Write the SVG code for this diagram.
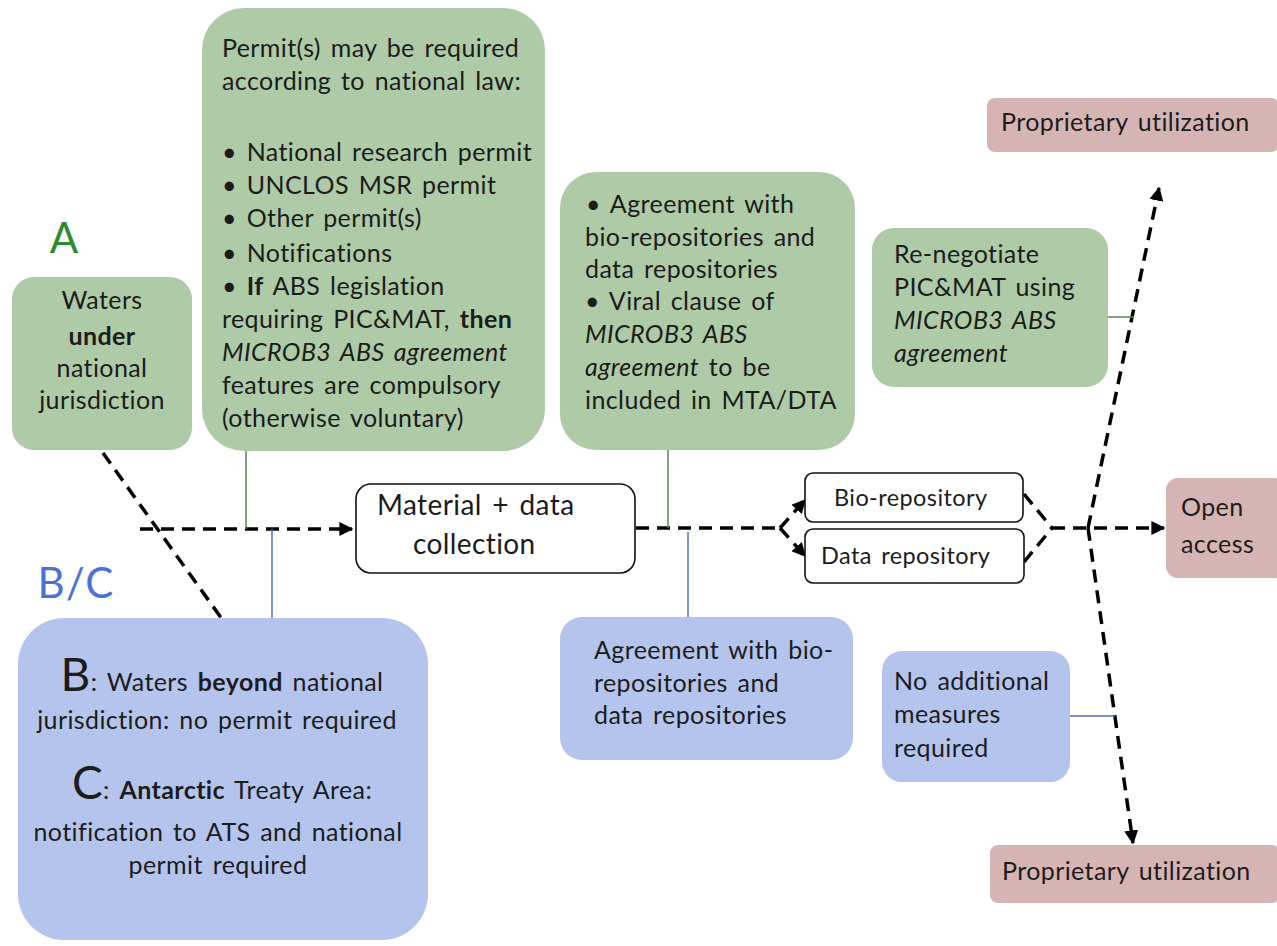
<svg xmlns="http://www.w3.org/2000/svg" width="1277" height="946" viewBox="0 0 1277 946">
<style>
text{font-family:Lato,"Open Sans","Liberation Sans",sans-serif;fill:#1c1c1c;font-size:25px;letter-spacing:0.4px;word-spacing:3px}
.g{fill:#aecaa7}
.b{fill:#b4c4ec}
.p{fill:#d6b4b4}
.w{fill:#fff;stroke:#111;stroke-width:1.6}
.d{fill:none;stroke:#000;stroke-width:3.5;stroke-dasharray:13 8}
.gl{stroke:#4f8a4f;stroke-width:1.5;fill:none}
.bl{stroke:#4d6fc7;stroke-width:1.5;fill:none}
.bo{font-weight:bold}
.it{font-style:italic}
.m{text-anchor:middle}
</style>
<defs>
<marker id="ar" viewBox="0 0 10 10" refX="9" refY="5" markerWidth="4" markerHeight="4" orient="auto" markerUnits="strokeWidth">
<path d="M0,0 L10,5 L0,10 z" fill="#000"/>
</marker>
</defs>

<text x="64" y="253" style="font-size:42px;fill:#2d8a2d;letter-spacing:0" class="m">A</text>
<text x="76" y="598" style="font-size:42px;fill:#4a72d6;letter-spacing:1px" class="m">B/C</text>

<g id="connectors">
<path class="d" d="M103,453 L222,619"/>
<path class="d" d="M140,529 L352,529" marker-end="url(#ar)"/>
<path class="gl" d="M246,451 V529"/>
<path class="bl" d="M272,529 V618"/>
<path class="d" d="M636,528 L780,528"/>
<path class="d" d="M780,528 L805,500" marker-end="url(#ar)"/>
<path class="d" d="M780,528 L805,556" marker-end="url(#ar)"/>
<path class="gl" d="M668,450 V528"/>
<path class="bl" d="M688,532 V618"/>
<path class="d" d="M1024,494 L1052,528"/>
<path class="d" d="M1024,562 L1052,528"/>
<path class="d" d="M1052,528 L1164,528" marker-end="url(#ar)"/>
<path class="d" d="M1088,528 L1159,188" marker-end="url(#ar)"/>
<path class="d" d="M1088,528 L1133,843" marker-end="url(#ar)"/>
<path class="gl" d="M1108,317 H1134"/>
<path class="bl" d="M1070,716 H1115"/>
</g>

<g id="waters">
<rect class="g" x="12" y="277" width="180" height="173" rx="22"/>
<text class="m" x="102" y="309">Waters</text>
<text class="m bo" x="102" y="345">under</text>
<text class="m" x="102" y="377">national</text>
<text class="m" x="102" y="409">jurisdiction</text>
</g>

<g id="permit">
<rect class="g" x="202" y="8" width="343" height="443" rx="42"/>
<text x="222" y="57">Permit(s) may be required</text>
<text x="222" y="90">according to national law:</text>
<text x="222" y="161">• National research permit</text>
<text x="222" y="194">• UNCLOS MSR permit</text>
<text x="222" y="227">• Other permit(s)</text>
<text x="222" y="262">• Notifications</text>
<text x="222" y="295">• <tspan class="bo">If</tspan> ABS legislation</text>
<text x="222" y="328">requiring PIC&amp;MAT, <tspan class="bo">then</tspan></text>
<text x="222" y="361" class="it">MICROB3 ABS agreement</text>
<text x="222" y="394">features are compulsory</text>
<text x="222" y="427">(otherwise voluntary)</text>
</g>

<g id="agreement-green">
<rect class="g" x="560" y="172" width="295" height="278" rx="36"/>
<text x="586" y="213">• Agreement with</text>
<text x="585" y="246">bio-repositories and</text>
<text x="585" y="278">data repositories</text>
<text x="585" y="310">• Viral clause of</text>
<text x="585" y="343" class="it">MICROB3 ABS</text>
<text x="585" y="376"><tspan class="it">agreement</tspan> to be</text>
<text x="585" y="409">included in MTA/DTA</text>
</g>

<g id="renegotiate">
<rect class="g" x="872" y="228" width="236" height="159" rx="22"/>
<text x="894" y="263">Re-negotiate</text>
<text x="894" y="296">PIC&amp;MAT using</text>
<text x="894" y="329" class="it">MICROB3 ABS</text>
<text x="894" y="362" class="it">agreement</text>
</g>

<g id="prop-top">
<rect class="p" x="987" y="98" width="292" height="54" rx="8"/>
<text x="1001" y="131">Proprietary utilization</text>
</g>

<g id="material">
<rect class="w" x="356" y="484" width="279" height="89" rx="15"/>
<text x="377" y="515" style="font-size:28px">Material + data</text>
<text x="413" y="554" style="font-size:28px">collection</text>
</g>

<g id="bio">
<rect class="w" x="805" y="473" width="218" height="49" rx="8"/>
<text x="834" y="506" style="font-size:23.5px">Bio-repository</text>
</g>

<g id="data">
<rect class="w" x="805" y="529" width="219" height="54" rx="8"/>
<text x="821" y="564" style="font-size:23.5px">Data repository</text>
</g>

<g id="open">
<rect class="p" x="1166" y="478" width="120" height="100" rx="12"/>
<text x="1181" y="516">Open</text>
<text x="1181" y="553">access</text>
</g>

<g id="bc">
<rect class="b" x="18" y="618" width="410" height="322" rx="46"/>
<text class="m" x="222" y="691"><tspan style="font-size:46px">B</tspan>: Waters <tspan class="bo">beyond</tspan> national</text>
<text class="m" x="217" y="729">jurisdiction: no permit required</text>
<text class="m" x="222" y="799"><tspan style="font-size:46px">C</tspan>: <tspan class="bo">Antarctic</tspan> Treaty Area:</text>
<text class="m" x="218" y="841">notification to ATS and national</text>
<text class="m" x="218" y="874">permit required</text>
</g>

<g id="agreement-blue">
<rect class="b" x="560" y="617" width="293" height="143" rx="22"/>
<text x="594" y="659">Agreement with bio-</text>
<text x="594" y="692">repositories and</text>
<text x="594" y="724">data repositories</text>
</g>

<g id="noadd">
<rect class="b" x="882" y="651" width="188" height="131" rx="20"/>
<text x="894" y="690">No additional</text>
<text x="894" y="723">measures</text>
<text x="894" y="757">required</text>
</g>

<g id="prop-bottom">
<rect class="p" x="990" y="845" width="290" height="58" rx="8"/>
<text x="1002" y="880">Proprietary utilization</text>
</g>
</svg>
